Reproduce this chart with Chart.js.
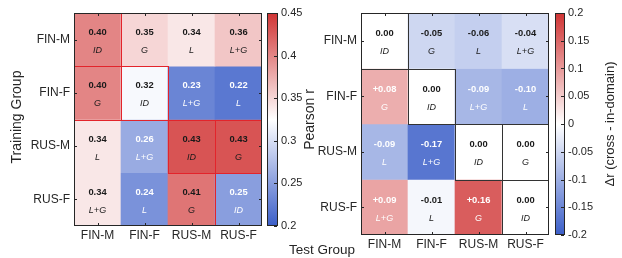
<!DOCTYPE html>
<html><head><meta charset="utf-8">
<script src="https://cdn.jsdelivr.net/npm/chart.js@4.4.1/dist/chart.umd.min.js"></script>
<style>
html,body{margin:0;padding:0;background:#fff;}
#wrap{position:relative;width:622px;height:258px;overflow:hidden;font-family:"Liberation Sans",Arial,Helvetica,sans-serif;}
canvas{position:absolute;top:0;}
#testLabel{position:absolute;left:289px;top:243px;font-size:13.5px;line-height:14px;color:#262626;white-space:nowrap;}
</style></head>
<body><div id="wrap">
<canvas id="leftHeat" width="270" height="258" style="left:0px;width:270px;height:258px"></canvas>
<canvas id="leftBar" width="60" height="258" style="left:262px;width:60px;height:258px"></canvas>
<canvas id="rightHeat" width="252" height="258" style="left:300px;width:252px;height:258px"></canvas>
<canvas id="rightBar" width="73" height="258" style="left:549px;width:73px;height:258px"></canvas>
<div id="testLabel">Test Group</div>
</div>
<script>
// ---------- data ----------
const testGroups = ['FIN-M', 'FIN-F', 'RUS-M', 'RUS-F'];
const trainGroups = ['FIN-M', 'FIN-F', 'RUS-M', 'RUS-F'];
const pearsonR = [
  [0.40, 0.35, 0.34, 0.36],
  [0.40, 0.32, 0.23, 0.22],
  [0.34, 0.26, 0.43, 0.43],
  [0.34, 0.24, 0.41, 0.25]
];
const deltaR = [
  [0.00, -0.05, -0.06, -0.04],
  [0.08, 0.00, -0.09, -0.10],
  [-0.09, -0.17, 0.00, 0.00],
  [0.09, -0.01, 0.16, 0.00]
];
const shiftLabels = [
  ['ID', 'G', 'L', 'L+G'],
  ['G', 'ID', 'L+G', 'L'],
  ['L', 'L+G', 'ID', 'G'],
  ['L+G', 'L', 'G', 'ID']
];
const pearsonBoxes = [[0, 0], [1, 0], [1, 1], [2, 2], [2, 3], [3, 3]];
const deltaBoxes = [[0, 0], [1, 1], [2, 2], [2, 3], [3, 3]];
const pearsonTicks = [0.2, 0.25, 0.3, 0.35, 0.4, 0.45];
const deltaTicks = [-0.2, -0.15, -0.1, -0.05, 0, 0.05, 0.1, 0.15, 0.2];
const pearsonRange = [0.2, 0.45];
const deltaRange = [-0.2, 0.2];

// ---------- styling ----------
const FAMILY = '"Liberation Sans", Arial, Helvetica, sans-serif';
Chart.defaults.font.family = FAMILY;
Chart.defaults.color = '#262626';
const AXIS = '#262626';
const RED_END = [208, 52, 52];
const BLUE_END = [59, 94, 200];

function colorFor(v, range) {
  const mid = (range[0] + range[1]) / 2, half = (range[1] - range[0]) / 2;
  let t = (v - mid) / half;
  t = Math.max(-1, Math.min(1, t));
  const end = t >= 0 ? RED_END : BLUE_END;
  const a = Math.abs(t);
  const c = end.map(e => Math.round(255 + (e - 255) * a));
  return `rgb(${c[0]},${c[1]},${c[2]})`;
}

function makeHeatmap(id, values, range, boxes, boxColor, isWhite, fmt, pad, yWidth, xHeight, yTitle) {
  const n = trainGroups.length;
  const datasets = trainGroups.map((g, i) => ({
    label: g,
    data: testGroups.map(() => [n - 1 - i, n - i]),
    backgroundColor: values[i].map(v => colorFor(v, range)),
    borderWidth: 0,
    barPercentage: 1,
    categoryPercentage: 1,
    grouped: false
  }));
  const extras = {
    id: 'extras' + id,
    afterDatasetsDraw(chart) {
      const ctx = chart.ctx;
      const ca = chart.chartArea;
      ctx.save();
      // cell texts
      trainGroups.forEach((g, i) => {
        const meta = chart.getDatasetMeta(i);
        meta.data.forEach((el, j) => {
          const cy = (el.y + el.base) / 2;
          const v = values[i][j];
          const col = isWhite(v) ? '#ffffff' : '#1a1a1a';
          ctx.fillStyle = col;
          ctx.textAlign = 'center';
          ctx.textBaseline = 'middle';
          ctx.font = 'bold 9.4px ' + FAMILY;
          ctx.fillText(fmt(v), el.x, cy - 7);
          ctx.font = 'italic 9px ' + FAMILY;
          ctx.fillText(shiftLabels[i][j], el.x, cy + 11);
        });
      });
      // highlight boxes (drawn on cell boundaries so shared edges coincide)
      const L = Math.round(ca.left), R = Math.round(ca.right) - 1;
      const T = Math.round(ca.top), B = Math.round(ca.bottom) - 1;
      ctx.strokeStyle = boxColor;
      ctx.lineWidth = 1;
      boxes.forEach(([r, c]) => {
        const el = chart.getDatasetMeta(r).data[c];
        const x0 = Math.max(L, Math.round(el.x - el.width / 2));
        const x1 = Math.min(R, Math.round(el.x + el.width / 2));
        const y0 = Math.max(T, Math.round(Math.min(el.y, el.base)));
        const y1 = Math.min(B, Math.round(Math.max(el.y, el.base)));
        ctx.strokeRect(x0 + 0.5, y0 + 0.5, x1 - x0, y1 - y0);
      });
      // frame
      ctx.strokeStyle = AXIS;
      ctx.lineWidth = 1;
      ctx.strokeRect(L + 0.5, T + 0.5, R - L, B - T);
      // inward ticks
      const xs = chart.scales.x, ys = chart.scales.y;
      ctx.beginPath();
      xs.ticks.forEach((t, k) => {
        const px = Math.round(xs.getPixelForTick(k)) + 0.5;
        ctx.moveTo(px, ca.top); ctx.lineTo(px, ca.top + 3);
        ctx.moveTo(px, ca.bottom); ctx.lineTo(px, ca.bottom - 3);
      });
      ys.ticks.forEach(t => {
        const py = Math.round(ys.getPixelForValue(t.value)) + 0.5;
        ctx.moveTo(ca.left, py); ctx.lineTo(ca.left + 3, py);
        ctx.moveTo(ca.right, py); ctx.lineTo(ca.right - 3, py);
      });
      ctx.stroke();
      // y title
      if (yTitle) {
        ctx.fillStyle = AXIS;
        ctx.font = '14px ' + FAMILY;
        ctx.textAlign = 'center';
        ctx.textBaseline = 'middle';
        ctx.translate(yTitle.x, yTitle.y);
        ctx.rotate(-Math.PI / 2);
        ctx.fillText(yTitle.text, 0, 0);
      }
      ctx.restore();
    }
  };
  return new Chart(document.getElementById(id), {
    type: 'bar',
    data: { labels: testGroups, datasets },
    options: {
      responsive: false,
      animation: false,
      devicePixelRatio: 1,
      layout: { padding: pad },
      plugins: { legend: { display: false }, tooltip: { enabled: false } },
      scales: {
        x: {
          type: 'category',
          offset: true,
          grid: { display: false, drawTicks: false, tickLength: 0 },
          border: { display: false },
          ticks: { font: { size: 12 }, color: AXIS, padding: 2, autoSkip: false, maxRotation: 0 },
          afterFit(s) { s.height = xHeight; }
        },
        y: {
          type: 'linear',
          min: 0, max: n,
          grid: { display: false, drawTicks: false, tickLength: 0 },
          border: { display: false },
          afterBuildTicks(s) { s.ticks = trainGroups.map((g, i) => ({ value: n - 0.5 - i })); },
          ticks: { font: { size: 12 }, color: AXIS, padding: 4, callback: (v, i) => trainGroups[i] },
          afterFit(s) { s.width = yWidth; }
        }
      }
    },
    plugins: [extras]
  });
}

function makeColorbar(id, range, ticks, pad, scaleWidth, title) {
  const extras = {
    id: 'cb' + id,
    afterDatasetsDraw(chart) {
      const ctx = chart.ctx, ca = chart.chartArea, ys = chart.scales.y;
      ctx.save();
      ctx.strokeStyle = AXIS;
      ctx.lineWidth = 1;
      ctx.strokeRect(Math.round(ca.left) + 0.5, Math.round(ca.top) + 0.5, Math.round(ca.right - ca.left) - 1, Math.round(ca.bottom - ca.top) - 1);
      ctx.beginPath();
      ys.ticks.forEach(t => {
        const py = Math.round(ys.getPixelForValue(t.value)) + 0.5;
        ctx.moveTo(ca.right - 1, py); ctx.lineTo(ca.right - 4, py);
      });
      ctx.stroke();
      ctx.fillStyle = AXIS;
      ctx.font = title.size + 'px ' + FAMILY;
      ctx.textAlign = 'center';
      ctx.textBaseline = 'middle';
      ctx.translate(title.x, (ca.top + ca.bottom) / 2 + (title.dy || 0));
      ctx.rotate(-Math.PI / 2);
      ctx.fillText(title.text, 0, 0);
      ctx.restore();
    }
  };
  return new Chart(document.getElementById(id), {
    type: 'bar',
    data: {
      labels: [''],
      datasets: [{
        data: [[range[0], range[1]]],
        backgroundColor: (c) => {
          const ca = c.chart.chartArea;
          if (!ca) return '#fff';
          const g = c.chart.ctx.createLinearGradient(0, ca.bottom, 0, ca.top);
          g.addColorStop(0, colorFor(range[0], range));
          g.addColorStop(0.5, '#ffffff');
          g.addColorStop(1, colorFor(range[1], range));
          return g;
        },
        borderWidth: 0,
        barPercentage: 1,
        categoryPercentage: 1
      }]
    },
    options: {
      responsive: false,
      animation: false,
      devicePixelRatio: 1,
      layout: { padding: pad },
      plugins: { legend: { display: false }, tooltip: { enabled: false } },
      scales: {
        x: { display: false, offset: true },
        y: {
          position: 'right',
          min: range[0], max: range[1],
          grid: { display: false, drawTicks: false, tickLength: 0 },
          border: { display: false },
          afterBuildTicks(s) { s.ticks = ticks.map(v => ({ value: v })); },
          ticks: { font: { size: 11 }, color: AXIS, padding: 3, callback: (v) => String(v) },
          afterFit(s) { s.width = scaleWidth; }
        }
      }
    },
    plugins: [extras]
  });
}

makeHeatmap('leftHeat', pearsonR, pearsonRange, pearsonBoxes, '#e3242b',
  v => v < 0.3, v => v.toFixed(2),
  { left: 0, top: 13, right: 8, bottom: 0 }, 74, 32,
  { text: 'Training Group', x: 17, y: 117 });
makeColorbar('leftBar', pearsonRange, pearsonTicks,
  { left: 5, top: 13, right: 0, bottom: 32 }, 44,
  { text: 'Pearson r', x: 48, size: 14 });
makeHeatmap('rightHeat', deltaR, deltaRange, deltaBoxes, '#333333',
  v => Math.abs(v) > 0.065, v => (v > 0.0001 ? '+' : (v < -0.0001 ? '-' : '')) + Math.abs(v).toFixed(2),
  { left: 0, top: 13, right: 3, bottom: 0 }, 61, 23, null);
makeColorbar('rightBar', deltaRange, deltaTicks,
  { left: 6, top: 13, right: 0, bottom: 23 }, 57,
  { text: 'Δr (cross - in-domain)', x: 61, size: 13 });
</script>
</body></html>
